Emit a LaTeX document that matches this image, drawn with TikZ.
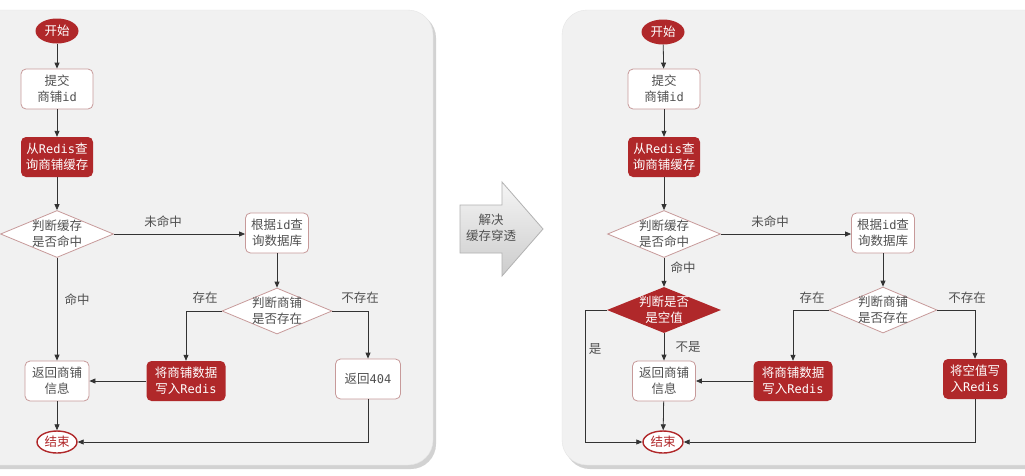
\documentclass[tikz,border=0pt]{standalone}
\usepackage{fontspec}
\setmainfont{Noto Sans CJK SC}
\newfontfamily\mn{DejaVu Sans Mono}
\newcommand\lat[1]{{\mn\fontsize{12}{16}\selectfont #1}}
\usetikzlibrary{shapes.geometric,arrows.meta}
\definecolor{dred}{HTML}{B0282A}
\definecolor{bord}{HTML}{C79A9A}
\definecolor{txt}{HTML}{505050}
\definecolor{panel}{HTML}{F1F1F1}
\definecolor{lin}{HTML}{333333}
\tikzset{
  every node/.style={font=\fontsize{12.5}{16}\selectfont, align=center},
  startn/.style={ellipse, fill=dred, text=white, minimum width=43pt, minimum height=25pt, inner sep=0pt},
  endn/.style={ellipse, draw=dred, line width=1.4pt, fill=white, text=dred, minimum width=40pt, minimum height=22pt, inner sep=0pt},
  wbox/.style={rectangle, rounded corners=5pt, draw=bord, line width=0.8pt, fill=white, text=txt, minimum height=40pt, inner sep=2pt},
  rbox/.style={rectangle, rounded corners=5pt, fill=dred, text=white, minimum height=40pt, inner sep=2pt},
  wdia/.style={diamond, draw=bord, line width=0.8pt, fill=white, inner sep=0pt},
  rdia/.style={diamond, fill=dred, inner sep=0pt},
  elab/.style={text=txt},
  conn/.style={draw=lin, line width=0.8pt, -{Triangle[length=6pt,width=5pt]}},
}
\begin{document}
\begin{tikzpicture}[x=1pt,y=-1pt]
\useasboundingbox (0,0) rectangle (1025,475);
\fill[white] (0,0) rectangle (1025,475);
% panels with shadow
\fill[gray!35, rounded corners=25pt] (-30,13) rectangle (436,469);
\filldraw[fill=panel, draw=gray!20, rounded corners=25pt] (-30,10) rectangle (433,465);
\fill[gray!35, rounded corners=25pt] (565,13) rectangle (1060,469);
\filldraw[fill=panel, draw=gray!20, rounded corners=25pt] (562,10) rectangle (1060,465);

% ===== left diagram =====
\node[startn] (s1) at (57,31) {开始};
\node[wbox, minimum width=72pt] (sub1) at (57,89) {提交\\商铺\lat{id}};
\node[rbox, minimum width=72pt] (red1) at (57,157) {从\lat{Redis}查\\询商铺缓存};
\node[wdia, minimum width=113pt, minimum height=47pt, label={[text=txt]center:判断缓存\\是否命中}] (d1) at (57,234) {};
\node[wbox, minimum width=63pt] (q1) at (277,233) {根据\lat{id}查\\询数据库};
\node[wdia, minimum width=110pt, minimum height=46pt, label={[text=txt]center:判断商铺\\是否存在}] (e1) at (277,311) {};
\node[wbox, minimum width=64pt] (ret1) at (57,381) {返回商铺\\信息};
\node[rbox, minimum width=79pt] (w1) at (186,381) {将商铺数据\\写入\lat{Redis}};
\node[wbox, minimum width=65pt] (f1) at (368,379) {返回\lat{404}};
\node[endn] (x1) at (57,442) {结束};

\draw[conn] (s1) -- (sub1);
\draw[conn] (sub1) -- (red1);
\draw[conn] (red1) -- (d1);
\draw[conn] (d1.east) -- (d1.east -| q1.west);
\draw[conn] (q1) -- (e1);
\draw[conn] (d1) -- (ret1);
\draw[conn] (e1.west) -| (w1.north);
\draw[conn] (e1.east) -| (f1.north);
\draw[conn] (w1) -- (ret1);
\draw[conn] (ret1) -- (x1);
\draw[conn] (f1.south) |- (x1.east);
\node[elab] (l1a) at (163,222) {未命中};
\node[elab] (l1b) at (77,300) {命中};
\node[elab] (l1c) at (205,298) {存在};
\node[elab] (l1d) at (360,298) {不存在};

% ===== middle arrow =====
\shade[top color=gray!8, bottom color=gray!40, draw=gray!60, line width=0.8pt]
  (460,205) -- (502,205) -- (502,182) -- (543,229) -- (502,276) -- (502,253) -- (460,253) -- cycle;
\node[text=txt] (ar) at (491,228) {解决\\缓存穿透};

% ===== right diagram =====
\node[startn] (s2) at (663,32) {开始};
\node[wbox, minimum width=72pt] (sub2) at (664,89) {提交\\商铺\lat{id}};
\node[rbox, minimum width=72pt] (red2) at (664,157) {从\lat{Redis}查\\询商铺缓存};
\node[wdia, minimum width=113pt, minimum height=47pt, label={[text=txt]center:判断缓存\\是否命中}] (d2) at (664,234) {};
\node[wbox, minimum width=63pt] (q2) at (883,233) {根据\lat{id}查\\询数据库};
\node[rdia, minimum width=114pt, minimum height=46pt, label={[text=white]center:判断是否\\是空值}] (n2) at (664,310) {};
\node[wdia, minimum width=108pt, minimum height=46pt, label={[text=txt]center:判断商铺\\是否存在}] (e2) at (883,310) {};
\node[wbox, minimum width=63pt] (ret2) at (664,381) {返回商铺\\信息};
\node[rbox, minimum width=79pt] (w2) at (793,381) {将商铺数据\\写入\lat{Redis}};
\node[rbox, minimum width=64pt] (wn2) at (975,379) {将空值写\\入\lat{Redis}};
\node[endn] (x2) at (663,442) {结束};
\coordinate (c2) at (585,310);

\draw[conn] (s2) -- (sub2);
\draw[conn] (sub2) -- (red2);
\draw[conn] (red2) -- (d2);
\draw[conn] (d2.east) -- (d2.east -| q2.west);
\draw[conn] (q2) -- (e2);
\draw[conn] (d2) -- (n2);
\draw[conn] (n2) -- (ret2);
\draw[conn] (n2.west) -- (c2) |- (x2.west);
\draw[conn] (e2.west) -| (w2.north);
\draw[conn] (e2.east) -| (wn2.north);
\draw[conn] (w2) -- (ret2);
\draw[conn] (ret2) -- (x2);
\draw[conn] (wn2.south) |- (x2.east);
\node[elab] (l2a) at (770,222) {未命中};
\node[elab] (l2b) at (683,268) {命中};
\node[elab] (l2c) at (688,347) {不是};
\node[elab] (l2d) at (595,349) {是};
\node[elab] (l2e) at (812,298) {存在};
\node[elab] (l2f) at (967,298) {不存在};
\end{tikzpicture}
\end{document}
